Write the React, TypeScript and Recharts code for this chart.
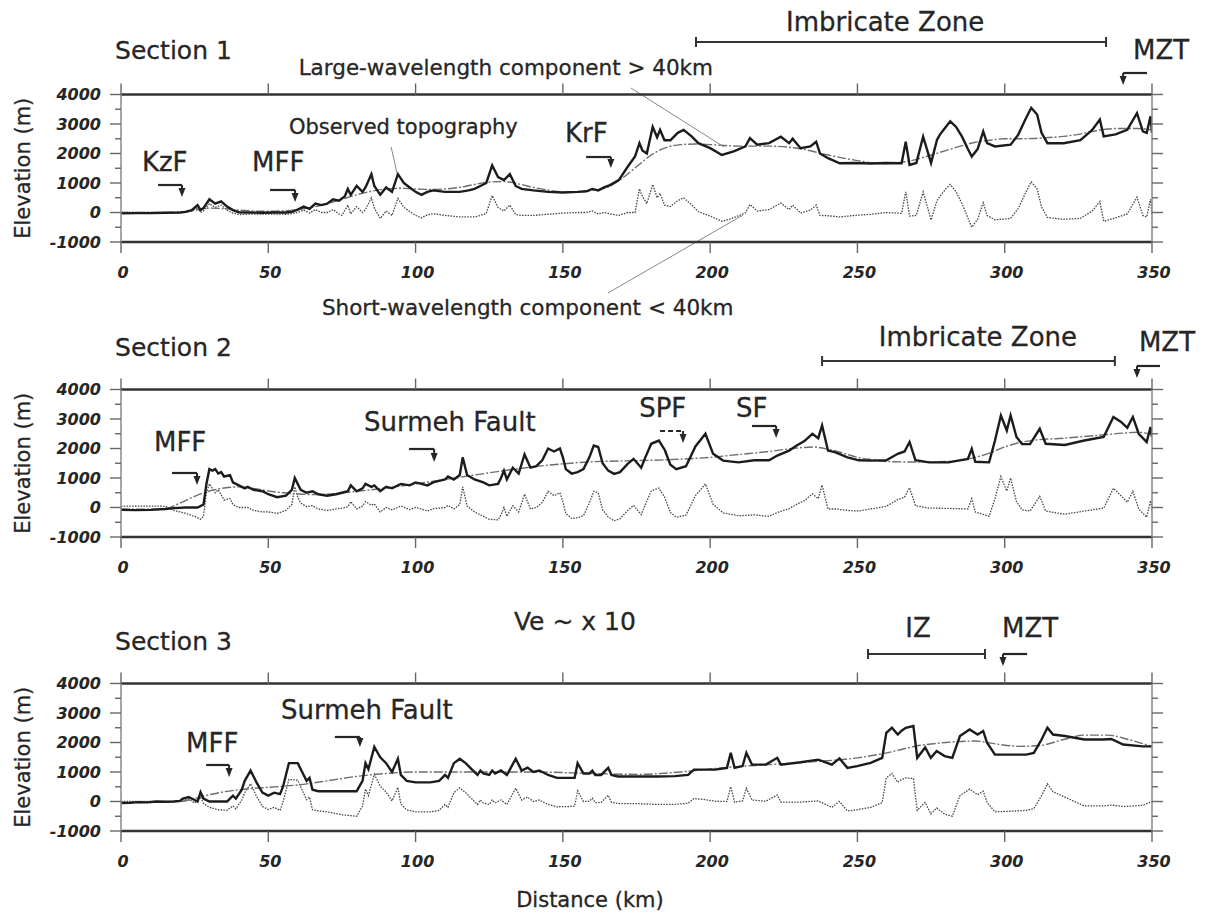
import React from "react";
import { LineChart, Line, XAxis, YAxis, ReferenceLine, ReferenceDot } from "recharts";

type Pt = [number, number]; // [distance km, elevation m]

const xTicks = [0, 50, 100, 150, 200, 250, 300, 350];
const yTicks = [-1000, -500, 0, 500, 1000, 1500, 2000, 2500, 3000, 3500, 4000];

// ---- Section 1 ----
const s1Observed: Pt[] = [
  [0, -30], [5, -20], [10, -20], [15, -10], [20, 0], [22, 20], [24, 80], [26, 250], [27, 80], [28, 150], [30, 450], [32, 300],
  [34, 380], [36, 200], [38, 80], [40, 10], [44, 0], [48, -10], [52, 0], [56, 0], [58, 20], [60, 100], [62, 200], [64, 120],
  [66, 300], [68, 250], [70, 300], [72, 450], [74, 400], [76, 550], [77, 800], [78, 600], [80, 900], [82, 700], [83, 850],
  [85, 1300], [86, 900], [88, 600], [90, 850], [92, 700], [94, 1300], [96, 1000], [98, 850], [100, 700], [102, 600], [104, 700],
  [106, 750], [110, 700], [115, 700], [118, 750], [120, 800], [122, 900], [124, 1000], [126, 1600], [128, 1200], [130, 1100],
  [132, 1300], [134, 900], [136, 800], [140, 750], [145, 700], [150, 680], [155, 700], [158, 720], [160, 800], [162, 750],
  [164, 850], [166, 930], [169, 1100], [172, 1550], [174.5, 1900], [176, 2350], [177, 2100], [178.5, 2000], [180.5, 2900],
  [182, 2550], [183, 2800], [184.5, 2450], [186.5, 2450], [189, 2700], [191, 2800], [193.8, 2570], [196, 2350], [200, 2180],
  [204, 1950], [208, 2070], [212, 2240], [213.5, 2520], [216, 2300], [220, 2350], [224, 2570], [226.8, 2350], [228, 2500],
  [230.7, 2180], [234, 2240], [236, 2400], [237.3, 2000], [240, 1840], [244, 1670], [249, 1680], [254.5, 1660], [259.8, 1680],
  [265, 1670], [266.4, 2400], [267.7, 1610], [270, 1680], [272.3, 2570], [275, 1680], [277, 2460], [278, 2640], [280, 2900],
  [281.5, 3090], [283.5, 2900], [285.5, 2570], [287.5, 2150], [288.8, 1900], [290.8, 2150], [292.7, 2750], [294, 2350],
  [296.7, 2240], [302, 2300], [304.6, 2640], [307, 3150], [309, 3550], [311, 3320], [312.5, 2700], [314.5, 2350], [320, 2350],
  [325.7, 2450], [329.7, 2800], [332.3, 3150], [333.6, 2580], [337.6, 2650], [341.6, 2800], [344.9, 3370], [346.9, 2750],
  [348.2, 2700], [349.5, 3260], [350, 2700],
];
const s1Large: Pt[] = [
  [0, 0], [10, 0], [20, 20], [25, 80], [30, 150], [35, 130], [40, 80], [50, 40], [60, 100], [65, 180], [70, 300], [75, 450],
  [80, 600], [85, 720], [90, 800], [95, 820], [100, 800], [105, 780], [110, 800], [115, 850], [120, 950], [125, 1030],
  [130, 1050], [135, 970], [140, 850], [145, 760], [150, 700], [155, 700], [160, 750], [165, 850], [170, 1150], [175, 1550],
  [180, 1950], [185, 2200], [190, 2300], [195, 2320], [200, 2300], [210, 2250], [220, 2250], [230, 2170], [240, 1950],
  [250, 1760], [258, 1660], [265, 1700], [270, 1800], [275, 1950], [280, 2100], [285, 2250], [290, 2380], [295, 2450],
  [300, 2500], [305, 2500], [310, 2510], [315, 2540], [320, 2580], [325, 2650], [330, 2750], [335, 2830], [340, 2850],
  [345, 2850], [350, 2800],
];
const s1Short: Pt[] = [
  [0, 0], [10, 0], [20, -10], [24, 50], [26, 180], [27, 0], [28, 50], [30, 300], [32, 170], [34, 250], [36, 80], [38, -20],
  [40, -70], [44, -50], [50, -50], [56, -60], [58, -40], [60, 0], [62, 80], [64, -20], [66, 100], [68, 0], [70, 0], [72, 100],
  [74, -50], [75, -100], [77, 250], [78, -50], [80, 200], [82, 0], [83, 100], [85, 500], [86, 150], [88, -200], [90, 50],
  [92, -100], [94, 480], [96, 180], [98, 30], [100, -100], [102, -180], [104, -80], [106, -40], [110, -100], [115, -150],
  [118, -150], [120, -150], [122, -100], [124, -30], [126, 570], [128, 170], [130, 50], [132, 250], [134, -70], [136, -100],
  [140, -100], [145, -60], [150, -20], [155, 0], [158, 0], [160, 50], [162, -50], [164, 0], [166, -50], [169, -100], [172, 0],
  [174.5, 0], [176, 800], [177, 550], [178.5, 300], [180.5, 950], [182, 500], [183, 650], [184.5, 250], [186.5, 200],
  [189, 400], [191, 500], [193.8, 250], [196, 30], [200, -120], [204, -300], [208, -180], [212, -10], [213.5, 270], [216, 50],
  [220, 100], [224, 320], [226.8, 100], [228, 250], [230.7, -20], [234, 80], [236, 250], [237.3, -100], [240, -110],
  [244, -150], [249, -100], [254.5, -60], [259.8, 0], [265, -30], [266.4, 700], [267.7, -120], [270, -100], [272.3, 700],
  [275, -250], [277, 400], [278, 550], [280, 800], [281.5, 950], [283.5, 700], [285.5, 300], [287.5, -180], [288.8, -500],
  [290.8, -230], [292.7, 330], [294, -100], [296.7, -250], [302, -200], [304.6, 140], [307, 650], [309, 1040], [311, 800],
  [312.5, 190], [314.5, -170], [320, -230], [325.7, -200], [329.7, 50], [332.3, 370], [333.6, -300], [337.6, -180],
  [341.6, -50], [344.9, 520], [346.9, -100], [348.2, -150], [349.5, 450], [350, -100],
];

// ---- Section 2 ----
const s2Observed: Pt[] = [
  [0, -80], [5, -90], [10, -80], [15, -50], [18, -20], [22, 0], [26, 0], [28, 100], [29, 800], [30, 1300], [31, 1250],
  [32, 1300], [33, 1150], [34, 1200], [35, 1050], [37, 1100], [38, 850], [40, 750], [42, 650], [43, 700], [45, 600], [48, 550],
  [50, 450], [53, 350], [56, 400], [58, 600], [59, 1000], [60, 800], [61, 600], [63, 500], [65, 550], [67, 450], [70, 400],
  [73, 450], [75, 500], [77, 550], [78, 750], [80, 550], [82, 650], [83, 800], [85, 700], [86, 750], [88, 550], [90, 700],
  [92, 650], [95, 800], [98, 750], [100, 850], [102, 800], [104, 750], [106, 850], [108, 900], [110, 950], [111, 1050],
  [113, 950], [115, 1100], [116, 1700], [117.5, 1100], [120, 950], [123, 850], [125, 750], [128, 800], [129, 1000],
  [130, 1250], [131, 950], [133, 1350], [135, 1150], [137, 1800], [139, 1350], [141, 1400], [143, 1600], [145, 2000],
  [147, 1900], [149, 2000], [150, 1700], [151, 1300], [153, 1150], [155, 1200], [157, 1300], [159, 1700], [160.5, 2100],
  [162, 2050], [163.5, 1500], [165.4, 1250], [167.4, 1140], [169.4, 1200], [172, 1480], [174, 1650], [176.6, 1350],
  [178, 1700], [180, 2160], [182.6, 2270], [184.6, 1950], [186.5, 1450], [188.5, 1300], [191.8, 1400], [195, 2070],
  [198.4, 2500], [201, 1820], [204.4, 1590], [209.6, 1530], [215, 1600], [220, 1600], [222.8, 1760], [226.8, 1930],
  [229.4, 2100], [232, 2250], [234.7, 2500], [236.7, 2350], [238, 2780], [240, 1930], [242.6, 1870], [246.6, 1700],
  [250.5, 1600], [254.5, 1590], [259.8, 1600], [263.7, 1820], [266, 1900], [267.7, 2220], [269.7, 1600], [274.3, 1530],
  [280.9, 1530], [287.5, 1650], [288.8, 1990], [290, 1550], [294.7, 1530], [296.7, 2270], [298.7, 3120], [300.7, 2610],
  [302, 3120], [304, 2390], [305.9, 2150], [308.6, 2150], [311.9, 2670], [313.9, 2160], [320.4, 2120], [327, 2270],
  [333.6, 2390], [336.9, 3070], [339.5, 2900], [341.6, 2700], [343.5, 3070], [345.5, 2500], [348.2, 2220], [349.5, 2730],
  [350, 2400],
];
const s2Large: Pt[] = [
  [0, -50], [10, -60], [15, -40], [20, 150], [25, 380], [30, 560], [35, 660], [40, 700], [45, 650], [50, 560], [55, 500],
  [60, 460], [65, 440], [70, 450], [80, 550], [90, 660], [100, 800], [110, 950], [120, 1100], [130, 1250], [140, 1380],
  [150, 1480], [160, 1550], [170, 1580], [180, 1600], [190, 1640], [200, 1700], [210, 1800], [220, 1900], [228, 2000],
  [235, 2050], [240, 1980], [245, 1850], [250, 1700], [255, 1620], [260, 1560], [270, 1540], [280, 1560], [290, 1700],
  [295, 1850], [300, 2050], [305, 2200], [310, 2280], [320, 2350], [330, 2430], [340, 2520], [345, 2550], [350, 2480],
];
const s2Short: Pt[] = [
  [0, 50], [5, 50], [10, 50], [15, 40], [18, -100], [22, -200], [25, -300], [27, -400], [28, -300], [29, 500], [30, 800],
  [31, 650], [32, 500], [33, 600], [35, 250], [37, 300], [38, 100], [40, 0], [43, 0], [45, -100], [48, -150], [50, -150],
  [53, -200], [56, -100], [58, 100], [59, 700], [60, 350], [61, 150], [63, 30], [65, 60], [67, -50], [70, -100], [73, -50],
  [75, -20], [77, 20], [78, 200], [80, -50], [82, 50], [83, 200], [85, 80], [86, 120], [88, -150], [90, 0], [92, -80],
  [95, 50], [98, -70], [100, 0], [102, -50], [104, -120], [106, -40], [108, -20], [110, 0], [111, 70], [113, -50], [115, 100],
  [116, 700], [117.5, 50], [120, -150], [123, -300], [125, -400], [128, -420], [129, -250], [130, 0], [131, -300], [133, 60],
  [135, -150], [137, 450], [139, -50], [141, 0], [143, 170], [145, 550], [147, 400], [149, 500], [150, 200], [151, -200],
  [153, -370], [155, -350], [157, -280], [159, 150], [160.5, 550], [162, 500], [163.5, -80], [165.4, -320], [167.4, -450],
  [169.4, -380], [172, -100], [174, 70], [176.6, -240], [178, 100], [180, 560], [182.6, 660], [184.6, 340], [186.5, -170],
  [188.5, -330], [191.8, -260], [195, 400], [198.4, 800], [201, 110], [204.4, -180], [209.6, -280], [215, -250], [220, -300],
  [222.8, -170], [226.8, -40], [229.4, 110], [232, 230], [234.7, 460], [236.7, 300], [238, 760], [240, -50], [242.6, -50],
  [246.6, -100], [250.5, -120], [254.5, -50], [259.8, 40], [263.7, 270], [266, 350], [267.7, 670], [269.7, 60], [274.3, -20],
  [280.9, -30], [287.5, -50], [288.8, 300], [290, -150], [294.7, -300], [296.7, 300], [298.7, 1050], [300.7, 560],
  [302, 1000], [304, 200], [305.9, -80], [308.6, -120], [311.9, 380], [313.9, -120], [320.4, -230], [327, -120],
  [333.6, -20], [336.9, 650], [339.5, 400], [341.6, 180], [343.5, 550], [345.5, -50], [348.2, -330], [349.5, 230], [350, -100],
];

// ---- Section 3 ----
const s3Observed: Pt[] = [
  [0, -50], [3, -40], [6, -20], [9, -30], [12, 0], [15, -10], [18, 0], [20, 20], [21, 100], [23, 150], [24, 100], [26, 0],
  [27, 320], [28, 100], [30, 0], [33, 0], [36, 0], [38, 200], [39, 100], [41, 400], [42, 700], [44, 1050], [46, 650],
  [48, 300], [50, 200], [52, 300], [54, 250], [55, 500], [57, 1300], [60, 1300], [62, 900], [63, 700], [64, 800], [65, 400],
  [67, 350], [70, 350], [75, 350], [80, 350], [82, 700], [83, 1300], [84, 1100], [86, 1850], [88, 1500], [90, 1300],
  [92, 1000], [94, 1450], [95, 900], [97, 700], [100, 650], [105, 650], [108, 700], [110, 900], [111, 800], [113, 1300],
  [115, 1450], [117, 1300], [119, 1100], [121, 900], [122, 1050], [123, 950], [125, 900], [126, 1050], [127, 950],
  [129, 1050], [131, 900], [134, 1450], [136, 1050], [138, 1150], [140, 1000], [142, 1050], [145, 900], [148, 800],
  [152, 800], [154, 800], [155, 1300], [157, 950], [159, 950], [160, 1050], [161, 900], [163, 900], [165.4, 1140],
  [166.5, 900], [168.7, 850], [175.3, 850], [181.9, 850], [188, 860], [192.5, 900], [194.5, 1080], [197.8, 1080],
  [201.7, 1080], [205.7, 1140], [207, 1650], [208.3, 1140], [211, 1200], [212.3, 1650], [214.2, 1250], [218.9, 1250],
  [222.8, 1480], [224, 1250], [230.7, 1330], [236.7, 1420], [241.3, 1250], [243.9, 1460], [246.6, 1140], [249.9, 1200],
  [254.5, 1310], [258.4, 1480], [259.8, 2330], [261.7, 2500], [263.7, 2270], [265, 2400], [266.4, 2500], [269, 2560],
  [270.3, 1480], [273, 1830], [274.9, 1480], [276.9, 1710], [279.6, 1540], [282.2, 1480], [284.8, 2220], [288.1, 2440],
  [290.8, 2270], [292.7, 2390], [294, 1990], [296.7, 1590], [302, 1590], [307.3, 1590], [309.9, 1650], [312.5, 2100],
  [314.5, 2500], [316.4, 2270], [320.4, 2220], [327, 2100], [333.6, 2100], [336.2, 2120], [340.2, 1930], [346.8, 1870],
  [350, 1870],
];
const s3Large: Pt[] = [
  [0, -50], [10, -20], [20, 0], [25, 100], [30, 230], [35, 330], [40, 400], [50, 480], [60, 560], [70, 700], [80, 850],
  [90, 950], [100, 1000], [120, 1000], [140, 1000], [160, 950], [175, 920], [190, 1000], [205, 1150], [220, 1250],
  [235, 1350], [250, 1480], [260, 1650], [270, 1880], [280, 2000], [290, 2050], [297, 1950], [305, 1870], [312, 1900],
  [320, 2100], [327, 2250], [335, 2250], [342, 2100], [350, 1870],
];
const s3Short: Pt[] = [
  [0, 0], [5, 0], [10, 0], [15, 0], [20, 20], [21, 80], [23, 80], [25, -50], [27, 150], [28, -60], [30, -200], [33, -280],
  [36, -300], [38, -150], [39, -250], [41, 50], [42, 300], [44, 600], [46, 180], [48, -170], [50, -270], [52, -200],
  [54, -300], [55, -20], [57, 750], [60, 720], [62, 280], [63, 60], [64, 150], [65, -280], [67, -320], [70, -350], [75, -450],
  [80, -500], [82, -150], [83, 420], [84, 200], [86, 920], [88, 520], [90, 320], [92, 20], [94, 480], [95, -80], [97, -290],
  [100, -350], [105, -350], [108, -300], [110, -100], [111, -200], [113, 300], [115, 460], [117, 300], [119, 100],
  [121, -100], [122, 50], [123, -50], [125, -100], [126, 50], [127, -50], [129, 50], [131, -100], [134, 450], [136, 50],
  [138, 150], [140, 0], [142, 50], [145, -100], [148, -180], [152, -170], [154, -160], [155, 360], [157, 0], [159, 10],
  [160, 110], [161, -40], [163, -30], [165.4, 210], [166.5, -30], [168.7, -70], [175.3, -70], [181.9, -100], [188, -100],
  [192.5, -60], [194.5, 100], [197.8, 70], [201.7, 10], [205.7, 0], [207, 500], [208.3, -20], [211, 20], [212.3, 450],
  [214.2, 50], [218.9, 10], [222.8, 220], [224, -20], [230.7, -20], [236.7, 20], [241.3, -200], [243.9, 0], [246.6, -320],
  [249.9, -280], [254.5, -200], [258.4, -40], [259.8, 800], [261.7, 950], [263.7, 650], [265, 750], [266.4, 800], [269, 780],
  [270.3, -300], [273, -30], [274.9, -420], [276.9, -220], [279.6, -430], [282.2, -500], [284.8, 200], [288.1, 420],
  [290.8, 230], [292.7, 350], [294, -30], [296.7, -350], [302, -330], [307.3, -300], [309.9, -240], [312.5, 200],
  [314.5, 600], [316.4, 330], [320.4, 150], [327, -150], [333.6, -150], [336.2, -120], [340.2, -170], [346.8, -130], [350, 0],
];

const rows = (pts: Pt[]) => pts.map(([km, m]) => ({ km, m }));

const INK = "#262626";
const HAND = "'DejaVu Sans', sans-serif";
const tickFont = {
  fontFamily: "'DejaVu Sans', sans-serif",
  fontWeight: 700,
  fontStyle: "italic" as const,
  fontSize: 16,
  fill: INK,
};

function LeftTick(props: any) {
  const { x, y, payload } = props;
  const major = payload.value % 1000 === 0;
  return (
    <g>
      <line x1={x - (major ? 11 : 6)} y1={y} x2={x} y2={y} stroke="#666" strokeWidth={1.4} />
      {major && (
        <text x={x - 20} y={y} textAnchor="end" dominantBaseline="central" {...tickFont}>
          {payload.value}
        </text>
      )}
    </g>
  );
}

function RightTick(props: any) {
  const { x, y, payload } = props;
  const major = payload.value % 1000 === 0;
  return <line x1={x} y1={y} x2={x + (major ? 11 : 6)} y2={y} stroke="#666" strokeWidth={1.4} />;
}

function BottomTick(props: any) {
  const { x, y, payload } = props;
  return (
    <g>
      <line x1={x} y1={y} x2={x} y2={y + 11} stroke="#666" strokeWidth={1.4} />
      <text x={x + 2} y={y + 30} textAnchor="middle" dominantBaseline="central" {...tickFont}>
        {payload.value}
      </text>
    </g>
  );
}

function TopTick(props: any) {
  const { x, y } = props;
  return <line x1={x} y1={y} x2={x} y2={y - 11} stroke="#666" strokeWidth={1.4} />;
}

// annotation helpers (all in data units: km / m)
const txt = (key: string, km: number, m: number, text: string, size = 26, anchor = "start", rotate = false) => (
  <ReferenceDot
    key={key}
    x={km}
    y={m}
    r={0}
    ifOverflow="visible"
    shape={(p: any) => (
      <text
        x={p.cx}
        y={p.cy}
        fontFamily={HAND}
        fontSize={size}
        fill={INK}
        stroke={INK}
        strokeWidth={0.3}
        textAnchor={anchor}
        dominantBaseline="central"
        transform={rotate ? `rotate(-90 ${p.cx} ${p.cy})` : undefined}
      >
        {text}
      </text>
    )}
  />
);

const seg = (key: string, x1: number, y1: number, x2: number, y2: number, stroke = INK, w = 2.2, dash?: string) => (
  <ReferenceLine
    key={key}
    segment={[{ x: x1, y: y1 }, { x: x2, y: y2 }]}
    ifOverflow="visible"
    stroke={stroke}
    strokeWidth={w}
    strokeDasharray={dash}
  />
);

const head = (key: string, km: number, m: number) => (
  <ReferenceDot
    key={key}
    x={km}
    y={m}
    r={0}
    ifOverflow="visible"
    shape={(p: any) => (
      <polygon points={`${p.cx - 3.5},${p.cy - 9} ${p.cx + 3.5},${p.cy - 9} ${p.cx},${p.cy}`} fill={INK} />
    )}
  />
);

// fault arrow: horizontal stroke from x1 to x2 at yTop, then down to the tip at yTip
const arrow = (key: string, x1: number, x2: number, yTop: number, yTip: number, dash?: string) => [
  seg(key + "h", x1, yTop, x2, yTop, INK, 2.2, dash),
  seg(key + "v", x2, yTop, x2, yTip + 150, INK, 2),
  head(key + "a", x2, yTip),
];

const bar = (key: string, x1: number, x2: number, y: number) => [
  seg(key + "b", x1, y, x2, y, "#333", 2.2),
  seg(key + "l", x1, y - 170, x1, y + 170, "#333", 2),
  seg(key + "r", x2, y - 170, x2, y + 170, "#333", 2),
];

const leader = (key: string, x1: number, y1: number, x2: number, y2: number) => seg(key, x1, y1, x2, y2, "#888", 1);

interface SectionProps {
  top: number;
  height: number;
  plotTop: number;
  plotBottom: number;
  observed: Pt[];
  large: Pt[];
  short: Pt[];
  children: React.ReactNode;
}

function Section({ top, height, plotTop, plotBottom, observed, large, short, children }: SectionProps) {
  const marginTop = plotTop - top - 10;
  const marginBottom = top + height - plotBottom - 40;
  return (
    <div style={{ position: "absolute", left: 0, top }}>
      <LineChart width={1208} height={height} margin={{ top: marginTop, right: 26, bottom: marginBottom, left: 61 }}>
        <XAxis
          dataKey="km"
          type="number"
          domain={[0, 350]}
          ticks={xTicks}
          interval={0}
          allowDataOverflow
          height={40}
          tickSize={0}
          tickMargin={0}
          tickLine={false}
          tick={<BottomTick />}
          axisLine={{ stroke: "#333", strokeWidth: 2.4 }}
        />
        <XAxis
          xAxisId="top"
          orientation="top"
          dataKey="km"
          type="number"
          domain={[0, 350]}
          ticks={xTicks}
          interval={0}
          allowDataOverflow
          height={10}
          tickSize={0}
          tickMargin={0}
          tickLine={false}
          tick={<TopTick />}
          axisLine={{ stroke: "#333", strokeWidth: 2.4 }}
        />
        <YAxis
          type="number"
          domain={[-1000, 4000]}
          ticks={yTicks}
          interval={0}
          allowDataOverflow
          width={60}
          tickSize={0}
          tickMargin={0}
          tickLine={false}
          tick={<LeftTick />}
          axisLine={{ stroke: "#888", strokeWidth: 1.5 }}
        />
        <YAxis
          yAxisId="r"
          orientation="right"
          type="number"
          domain={[-1000, 4000]}
          ticks={yTicks}
          interval={0}
          allowDataOverflow
          width={30}
          tickSize={0}
          tickMargin={0}
          tickLine={false}
          tick={<RightTick />}
          axisLine={{ stroke: "#888", strokeWidth: 1.5 }}
        />
        <Line data={rows(short)} dataKey="m" type="linear" stroke="#444" strokeWidth={1.3} strokeDasharray="1.5 1.3" dot={false} isAnimationActive={false} />
        <Line data={rows(large)} dataKey="m" type="monotone" stroke="#6e6e6e" strokeWidth={1.4} strokeDasharray="9 2 2 2" dot={false} isAnimationActive={false} />
        <Line data={rows(observed)} dataKey="m" type="linear" stroke="#1c1c1c" strokeWidth={2.4} dot={false} isAnimationActive={false} />
        {txt("elev", -33.3, 1500, "Elevation (m)", 21, "middle", true)}
        {children}
      </LineChart>
    </div>
  );
}

export default function App() {
  return (
    <div style={{ position: "absolute", left: 0, top: 0, width: 1208, height: 914, background: "#fff", overflow: "hidden" }}>
      <Section top={0} height={320} plotTop={94.5} plotBottom={242} observed={s1Observed} large={s1Large} short={s1Short}>
        {txt("s1", -2, 5500, "Section 1", 25)}
        {txt("s1iz", 259.4, 6458, "Imbricate Zone", 26, "middle")}
        {bar("s1bar", 195.2, 334.4, 5780)}
        {txt("s1mzt", 353.1, 5509, "MZT", 26, "middle")}
        {arrow("s1mzta", 348.3, 340.2, 4729, 4322)}
        {txt("s1lw", 60.3, 4932, "Large-wavelength component > 40km", 21.5)}
        {leader("s1lwl", 173.1, 4221, 204.7, 2221)}
        {txt("s1ot", 57.0, 2898, "Observed topography", 21)}
        {leader("s1otl", 91.7, 2221, 93.7, 1339)}
        {txt("s1kzf", 7.1, 1712, "KzF", 26)}
        {arrow("s1kzfa", 12.6, 20.7, 932, 525)}
        {txt("s1mff", 44.5, 1712, "MFF", 26)}
        {arrow("s1mffa", 50.6, 59.1, 763, 356)}
        {txt("s1krf", 150.7, 2695, "KrF", 26)}
        {arrow("s1krfa", 157.9, 166.3, 1881, 1508)}
        {txt("s1sw", 68.2, -3237, "Short-wavelength component < 40km", 21.5)}
        {leader("s1swl", 165.3, -2729, 211.2, -85)}
      </Section>
      <Section top={320} height={280} plotTop={389.5} plotBottom={537} observed={s2Observed} large={s2Large} short={s2Short}>
        {txt("s2", -2, 5407, "Section 2", 25)}
        {txt("s2mff", 11.2, 2220, "MFF", 26)}
        {arrow("s2mffa", 17.3, 25.8, 1170, 763)}
        {txt("s2sf", 82.5, 2898, "Surmeh Fault", 26)}
        {arrow("s2sfa", 97.8, 106.3, 1983, 1542)}
        {txt("s2spf", 175.9, 3373, "SPF", 26)}
        {arrow("s2spfa", 183, 190.8, 2593, 2187, "5 3")}
        {txt("s2sff", 208.8, 3373, "SF", 26)}
        {arrow("s2sffa", 214.2, 222.4, 2763, 2356)}
        {txt("s2iz", 290.9, 5780, "Imbricate Zone", 26, "middle")}
        {bar("s2bar", 238, 337.4, 4966)}
        {txt("s2mzt", 355.1, 5610, "MZT", 26, "middle")}
        {arrow("s2mzta", 352.7, 344.9, 4797, 4390)}
      </Section>
      <Section top={600} height={314} plotTop={683.5} plotBottom={831} observed={s3Observed} large={s3Large} short={s3Short}>
        {txt("s3ve", 154.1, 6085, "Ve ~ x 10", 25, "middle")}
        {txt("s3", -2, 5407, "Section 3", 25)}
        {txt("s3sf", 54.3, 3102, "Surmeh Fault", 26)}
        {arrow("s3sfa", 72.6, 81.1, 2187, 1848)}
        {txt("s3mff", 22.1, 1983, "MFF", 26)}
        {arrow("s3mffa", 28.9, 36.7, 1237, 831)}
        {txt("s3iz", 270.6, 5882, "IZ", 26, "middle")}
        {bar("s3bar", 253.6, 293.3, 5000)}
        {txt("s3mzt", 308.6, 5882, "MZT", 26, "middle")}
        {arrow("s3mzta", 307.6, 299.4, 5000, 4593)}
        {txt("s3dist", 159.2, -3340, "Distance (km)", 21, "middle")}
      </Section>
    </div>
  );
}
